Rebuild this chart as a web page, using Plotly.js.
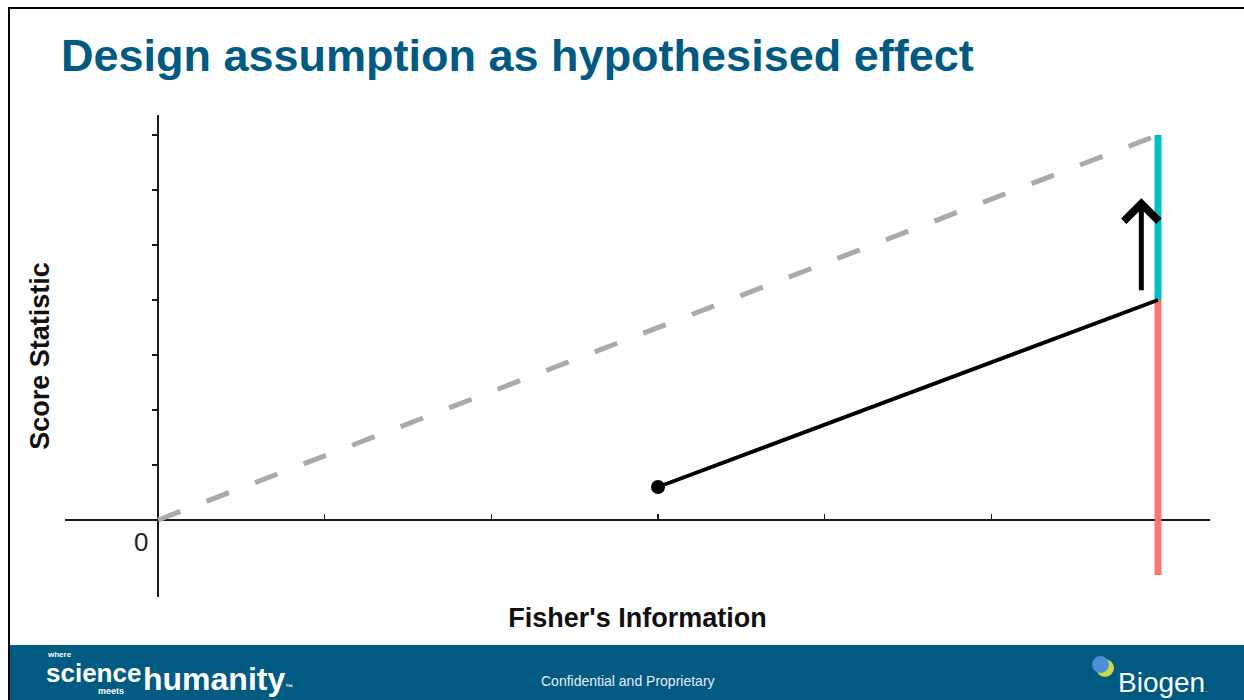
<!DOCTYPE html>
<html>
<head>
<meta charset="utf-8">
<script src="https://cdn.plot.ly/plotly-3.0.1.min.js"></script>
<style>html,body{margin:0;padding:0;background:#fff;}#chart{width:1244px;height:700px;}</style>
</head>
<body>
<div id="chart"></div>
<script>
// ---- data ----
const slideTitle = "Design assumption as hypothesised effect";
const xAxisTitle = "Fisher's Information";
const yAxisTitle = "Score Statistic";
const xTickVals = [1, 2, 3, 4, 5, 6];
const yTickVals = [1, 2, 3, 4, 5, 6, 7];
const originLabel = "0";
const hypothesisedX = [0, 6];
const hypothesisedY = [0, 7];
const observedX = [3, 6];
const observedY = [0.6, 4];
const boundaryX = [6, 6];
const upperBoundaryY = [4, 7];
const lowerBoundaryY = [-1, 4];
const shiftArrowX = 5.9;
const shiftArrowY = [4.15, 5.85];
const footerText = "Confidential and Proprietary";

// ---- layout helpers (pixel -> paper) ----
const W = 1244, H = 700;
const M = {l: 65, r: 34, t: 115, b: 103};
const PW = W - M.l - M.r, PH = H - M.t - M.b;
const px = x => (x - M.l) / PW;
const py = y => (H - M.b - y) / PH;

const blue = '#005a82';

const traces = [
  {x: hypothesisedX, y: hypothesisedY, mode: 'lines', line: {color: '#aaaaaa', width: 5, dash: '24px,28px'}, hoverinfo: 'skip'},
  {x: boundaryX, y: lowerBoundaryY, mode: 'lines', line: {color: '#f8766d', width: 7}, hoverinfo: 'skip'},
  {x: boundaryX, y: upperBoundaryY, mode: 'lines', line: {color: '#00bfc4', width: 7}, hoverinfo: 'skip'},
  {x: observedX, y: observedY, mode: 'lines+markers', line: {color: '#000', width: 4},
   marker: {color: '#000', size: [14, 0], symbol: 'circle', opacity: 1, line: {width: 0}}, hoverinfo: 'skip'}
];

const xr = [-(158 - 65) / (1000 / 6), (1210 - 158) / (1000 / 6)];
const yr = [-(597 - 520) / 55, (520 - 115) / 55];

const layout = {
  width: W, height: H,
  margin: M,
  paper_bgcolor: '#fff', plot_bgcolor: '#fff',
  showlegend: false,
  font: {family: 'Liberation Sans, Arial, sans-serif', color: '#000'},
  title: {text: slideTitle, font: {size: 45, color: blue, family: 'Liberation Sans, Arial, sans-serif', weight: 'bold'},
          xref: 'container', yref: 'container', x: 61 / W, xanchor: 'left', y: 1 - 55 / H, yanchor: 'middle'},
  xaxis: {range: xr, anchor: 'free', position: py(520), showgrid: false, zeroline: false,
          showline: true, linecolor: '#1a1a1a', linewidth: 2, layer: 'below traces',
          ticks: 'inside', ticklen: 5, tickwidth: 1.5, tickcolor: '#1a1a1a', tickvals: xTickVals, showticklabels: false,
          title: {text: xAxisTitle, standoff: 87, font: {size: 27, weight: 'bold', color: '#111'}},
          fixedrange: true},
  yaxis: {range: yr, anchor: 'free', position: px(158), showgrid: false, zeroline: false,
          showline: true, linecolor: '#1a1a1a', linewidth: 2, layer: 'below traces',
          ticks: 'outside', ticklen: 5, tickwidth: 1.5, tickcolor: '#1a1a1a', tickvals: yTickVals, showticklabels: false,
          title: {text: yAxisTitle, standoff: 94, font: {size: 27, weight: 'bold', color: '#111'}},
          fixedrange: true},
  shapes: [
    {type: 'rect', xref: 'paper', yref: 'paper', x0: px(10), x1: px(1250), y0: py(705), y1: py(645), fillcolor: blue, line: {width: 0}, layer: 'below'},
    {type: 'line', xref: 'paper', yref: 'paper', x0: px(9), x1: px(9), y0: py(8), y1: py(705), line: {color: '#000', width: 2}},
    {type: 'line', xref: 'paper', yref: 'paper', x0: px(8), x1: px(1250), y0: py(8), y1: py(8), line: {color: '#000', width: 2}},
    {type: 'circle', xref: 'paper', yref: 'paper', x0: px(1096), x1: px(1114), y0: py(677), y1: py(659), fillcolor: '#c9d94a', line: {width: 0}},
    {type: 'circle', xref: 'paper', yref: 'paper', x0: px(1092), x1: px(1109), y0: py(673), y1: py(656), fillcolor: '#4b8fd6', line: {width: 0}}
  ],
  annotations: [
    {x: 0, y: 0, xref: 'x', yref: 'y', text: originLabel, showarrow: false, xanchor: 'right', yanchor: 'top',
     xshift: -8, yshift: -5, font: {size: 26, color: '#222'}},
    {x: shiftArrowX, y: shiftArrowY[1], ax: shiftArrowX, ay: shiftArrowY[0], xref: 'x', yref: 'y', axref: 'x', ayref: 'y',
     text: '', showarrow: true, arrowhead: 4, arrowsize: 1.35, arrowwidth: 5, arrowcolor: '#000'},
    {x: px(628), y: py(681), xref: 'paper', yref: 'paper', text: footerText, showarrow: false,
     font: {size: 14, color: '#e6eef3'}, xanchor: 'center', yanchor: 'middle'},
    {x: px(45), y: py(654), xref: 'paper', yref: 'paper', text: 'where', showarrow: false,
     font: {size: 8, color: '#fff', weight: 'bold'}, xanchor: 'left', yanchor: 'middle'},
    {x: px(44), y: py(673), xref: 'paper', yref: 'paper', text: 'science', showarrow: false,
     font: {size: 26, color: '#fff', weight: 'bold'}, xanchor: 'left', yanchor: 'middle'},
    {x: px(96), y: py(691), xref: 'paper', yref: 'paper', text: 'meets', showarrow: false,
     font: {size: 9, color: '#fff', weight: 'bold'}, xanchor: 'left', yanchor: 'middle'},
    {x: px(141), y: py(679), xref: 'paper', yref: 'paper', text: 'humanity<span style="font-size:8px">™</span>', showarrow: false,
     font: {size: 32, color: '#fff', weight: 'bold'}, xanchor: 'left', yanchor: 'middle'},
    {x: px(1116), y: py(682), xref: 'paper', yref: 'paper', text: 'Biogen<span style="font-size:8px">.</span>', showarrow: false,
     font: {size: 28, color: '#fff'}, xanchor: 'left', yanchor: 'middle'}
  ]
};

Plotly.newPlot('chart', traces, layout, {displayModeBar: false, staticPlot: true});
</script>
</body>
</html>
